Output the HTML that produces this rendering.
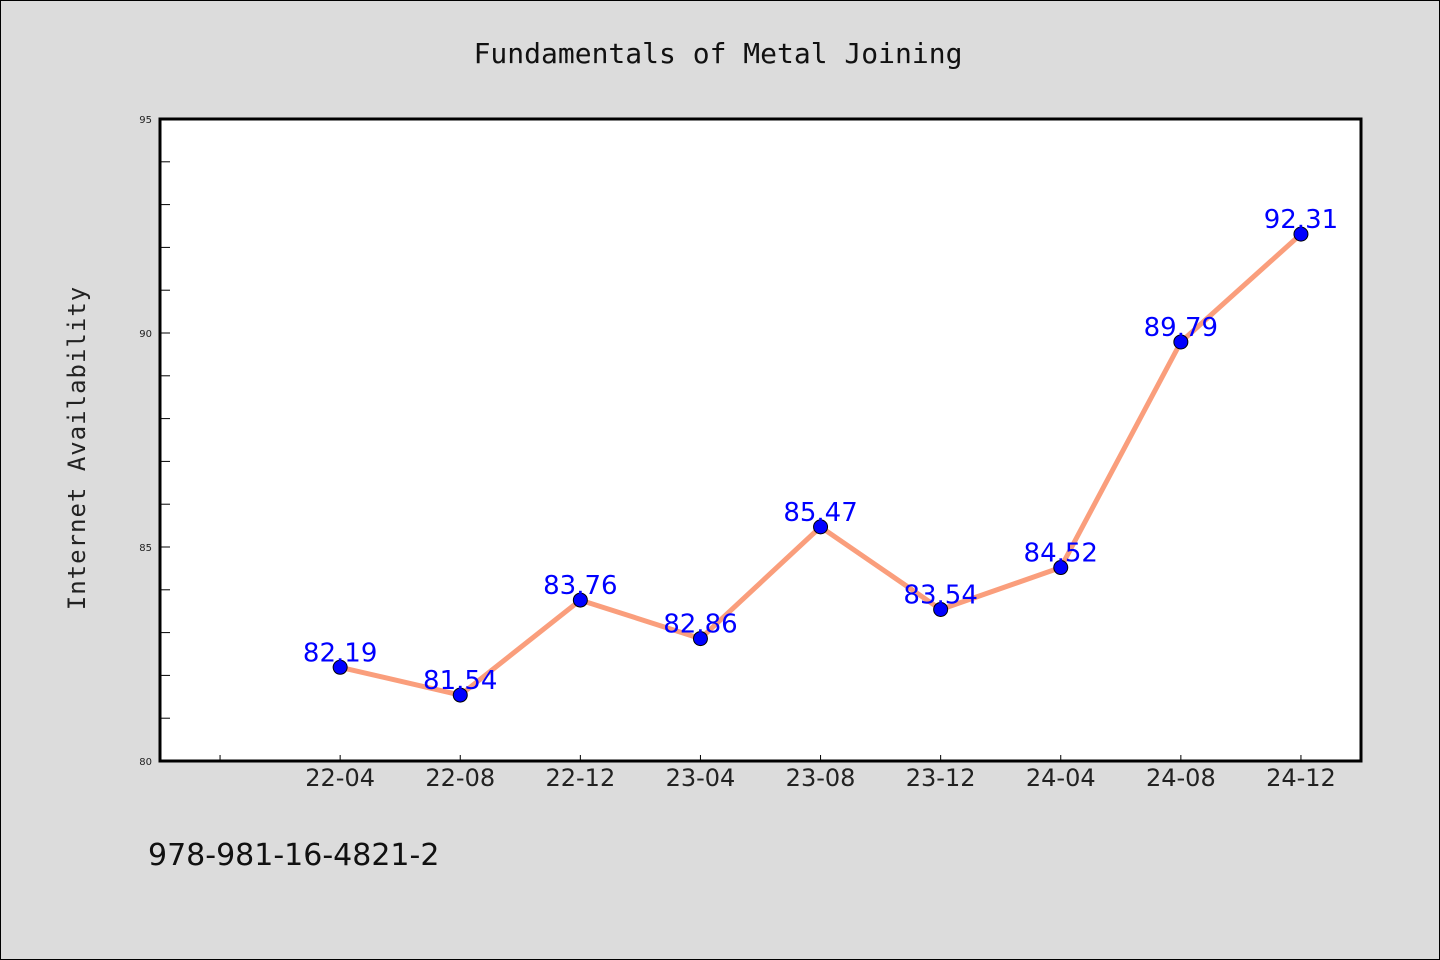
<!DOCTYPE html>
<html><head><meta charset="utf-8"><style>
html,body{margin:0;padding:0;background:#dcdcdc;}
svg{display:block;font-family:"DejaVu Sans","Liberation Sans",sans-serif;}
</style></head><body>
<svg id="chart" width="1440" height="960" viewBox="0 0 1440 960">
<rect x="0.5" y="0.5" width="1439" height="959" fill="#dcdcdc" stroke="#000"/>
<text x="718" y="63" font-size="28" text-anchor="middle" fill="#111" font-family="'DejaVu Sans Mono','Liberation Mono',monospace">Fundamentals of Metal Joining</text>
<rect x="160" y="119" width="1201" height="642" fill="#fff"/>
<g id="axes"></g>
<g id="series"></g>
<rect x="160" y="119" width="1201" height="642" fill="none" stroke="#000" stroke-width="3"/>
<text transform="translate(85,448) rotate(-90)" font-size="24" text-anchor="middle" fill="#222" font-family="'DejaVu Sans Mono','Liberation Mono',monospace" letter-spacing="1">Internet Availability</text>
<text x="148" y="865" font-size="30" fill="#111">978-981-16-4821-2</text>
</svg>
<script>
const categories = ["", "22-04", "22-08", "22-12", "23-04", "23-08", "23-12", "24-04", "24-08", "24-12"];
const values = [null, 82.19, 81.54, 83.76, 82.86, 85.47, 83.54, 84.52, 89.79, 92.31];
const valueLabels = ["", "82.19", "81.54", "83.76", "82.86", "85.47", "83.54", "84.52", "89.79", "92.31"];
const yTicks = [80, 85, 90, 95];
const yMin = 80, yMax = 95;
const L = 160, R = 1361, T = 119, B = 761;
const NS = "http://www.w3.org/2000/svg";
function xScale(i){ return L + (R - L) / categories.length * (i + 0.5); }
function yScale(v){ return B - (v - yMin) / (yMax - yMin) * (B - T); }
function mk(tag, attrs, parent){ const e = document.createElementNS(NS, tag); for (const k in attrs) e.setAttribute(k, attrs[k]); parent.appendChild(e); return e; }
const axes = document.getElementById('axes');
const series = document.getElementById('series');
for (let v = yMin; v <= yMax; v++) {
  const y = yScale(v);
  const t = mk('line', {x1: L, x2: L + 10, y1: y, y2: y, stroke: '#000', 'stroke-width': 1}, axes);
  
  
}
yTicks.forEach(v => {
  const t = mk('text', {x: L - 8, y: yScale(v) + 4, 'font-size': 10, 'text-anchor': 'end', fill: '#222'}, axes);
  t.textContent = v;
  
  
});
categories.forEach((c, i) => {
  const x = xScale(i);
  const t = mk('line', {x1: x, x2: x, y1: B, y2: B - 6, stroke: '#000', 'stroke-width': 1}, axes);
  
  
  if (c) {
    const l = mk('text', {x: x, y: B + 25, 'font-size': 24, 'text-anchor': 'middle', fill: '#222'}, axes);
    l.textContent = c;
    
    
  }
});
const pts = [];
values.forEach((v, i) => { if (v !== null) pts.push([xScale(i), yScale(v)]); });
const line = mk('polyline', {points: pts.map(p => p.join(',')).join(' '), fill: 'none', stroke: '#fa9e7c', 'stroke-width': 5, 'stroke-linejoin': 'round'}, series);


values.forEach((v, i) => {
  if (v === null) return;
  const x = xScale(i), y = yScale(v);
  const c = mk('circle', {cx: x, cy: y, r: 7, fill: '#0000ff', stroke: '#000', 'stroke-width': 1}, series);
  
  
});
values.forEach((v, i) => {
  if (v === null) return;
  const t = mk('text', {x: xScale(i), y: yScale(v) - 6, 'font-size': 26, 'text-anchor': 'middle', fill: '#0000ff'}, series);
  t.textContent = valueLabels[i];
  
  
});
</script>
</body></html>
